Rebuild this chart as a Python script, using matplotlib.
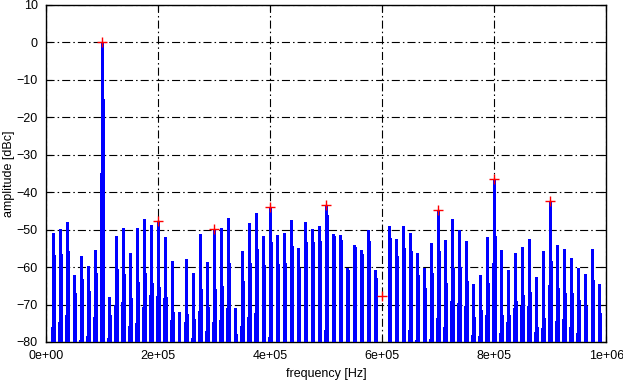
import numpy as np
import matplotlib
matplotlib.use("Agg")
import matplotlib.pyplot as plt

plt.rcParams['font.family'] = ['Liberation Sans', 'DejaVu Sans']
plt.rcParams['lines.scale_dashes'] = False

# spectral lines at multiples of 12.5 kHz (k = 1..79)
line_spacing_hz = 12500.0
bin_hz = 1900.0
main_db = [-51.0, -49.9, -48.0, -62.1, -57.1, -59.7, -55.5, 0.0, -67.9, -51.8,
           -49.6, -56.2, -49.6, -47.1, -48.7, -47.7, -52.0, -58.4, -72.0, -57.9,
           -61.6, -51.1, -58.7, -49.9, -49.6, -47.0, -70.8, -55.7, -48.3, -45.6,
           -51.8, -44.0, -51.5, -51.0, -47.5, -54.9, -48.0, -49.9, -49.1, -43.3,
           -51.2, -51.5, -60.3, -54.2, -55.5, -50.1, -60.8, -80.0, -49.1, -52.6,
           -49.1, -51.0, -56.3, -60.3, -53.6, -44.8, -52.8, -47.2, -50.1, -53.1,
           -64.5, -62.1, -52.0, -36.4, -55.5, -60.8, -56.3, -54.7, -52.6, -62.6,
           -55.7, -42.4, -54.2, -55.2, -57.6, -60.3, -61.9, -55.2, -64.5]
sec_db = [-56.8, -56.5, -55.7, -66.9, -63.2, -66.4, -61.6, -15.0, -72.8, -60.5,
          -61.8, -68.2, -63.9, -61.6, -64.3, -65.3, -68.0, -72.0, -80.0, -72.5,
          -73.9, -65.9, -70.6, -65.9, -65.1, -58.9, -77.8, -63.7, -58.9, -55.2,
          -59.5, -53.4, -59.2, -58.9, -54.4, -60.3, -53.4, -53.4, -53.1, -46.2,
          -51.8, -52.8, -60.8, -54.7, -56.5, -53.1, -62.9, -80.0, -52.3, -57.1,
          -54.9, -55.7, -62.1, -65.6, -61.6, -55.7, -64.3, -60.3, -60.0, -63.7,
          -73.3, -71.4, -64.3, -51.8, -72.8, -72.8, -69.0, -67.4, -66.7, -76.0,
          -73.6, -58.4, -65.6, -66.9, -66.9, -68.8, -70.4, -63.5, -72.3]
tiny_db = [-75.9, -74.7, -72.8, -80.0, -79.4, -78.4, -73.3, -35.0, -79.0, -70.1,
           -69.2, -75.6, -74.8, -70.6, -67.5, -67.7, -68.3, -74.1, -80.0, -74.6,
           -78.8, -71.7, -77.0, -74.6, -74.1, -70.8, -80.0, -75.7, -73.3, -72.3,
           -80.0, -78.6, -80.0, -80.0, -80.0, -80.0, -80.0, -80.0, -80.0, -76.7,
           -80.0, -80.0, -80.0, -80.0, -80.0, -80.0, -80.0, -80.0, -80.0, -80.0,
           -80.0, -76.8, -79.5, -80.0, -79.2, -73.6, -76.0, -69.0, -69.6, -70.4,
           -78.0, -78.4, -72.8, -58.9, -77.5, -74.6, -70.9, -70.4, -70.4, -77.3,
           -76.2, -64.8, -74.4, -73.9, -76.0, -77.6, -80.0, -80.0, -80.0]

# harmonic markers
harm_freq_hz = [1e5, 2e5, 3e5, 4e5, 5e5, 6e5, 7e5, 8e5, 9e5]
harm_db = [0.0, -47.7, -49.9, -43.9, -43.3, -67.6, -44.7, -36.4, -42.4]

x_ticks = [0, 2e5, 4e5, 6e5, 8e5, 1e6]
x_tick_labels = ["0e+00", "2e+05", "4e+05", "6e+05", "8e+05", "1e+06"]
y_ticks = list(range(-80, 11, 10))

fig = plt.figure(figsize=(6.23, 3.83), dpi=100)
ax = fig.add_axes([46.3/623, 1-342/383, (606.3-46.3)/623, (342-5)/383])

k = np.arange(1, len(main_db) + 1)
f = k * line_spacing_hz
floor = -80
lw = 0.8
ax.vlines(f - bin_hz, floor, tiny_db, color='#0000ff', lw=lw, antialiased=False, zorder=3)
ax.vlines(f + bin_hz, floor, sec_db, color='#0000ff', lw=lw, antialiased=False, zorder=3)
ax.vlines(f, floor, main_db, color='#0000ff', lw=lw, antialiased=False, zorder=3)

ax.plot(harm_freq_hz, harm_db, linestyle='none', marker='+', color='#ff0000',
        markersize=6.5, markeredgewidth=1.0, zorder=4)

ax.set_xlim(0, 1e6)
ax.set_ylim(-80, 10)
ax.set_xticks(x_ticks)
ax.set_xticklabels(x_tick_labels)
ax.set_yticks(y_ticks)
ax.tick_params(direction='in', length=4, width=0.8, labelsize=9, pad=6,
               top=True, right=True)
ax.grid(True, color='black', lw=0.8, linestyle=(0, (5.8, 2.2, 1.1, 2.2)), zorder=1)
ax.set_axisbelow(True)
for s in ax.spines.values():
    s.set_linewidth(1.0)
ax.set_xlabel("frequency [Hz]", fontsize=9, labelpad=4)
ax.set_ylabel("amplitude [dBc]", fontsize=9, labelpad=1)

fig.savefig("out.png", dpi=100)
